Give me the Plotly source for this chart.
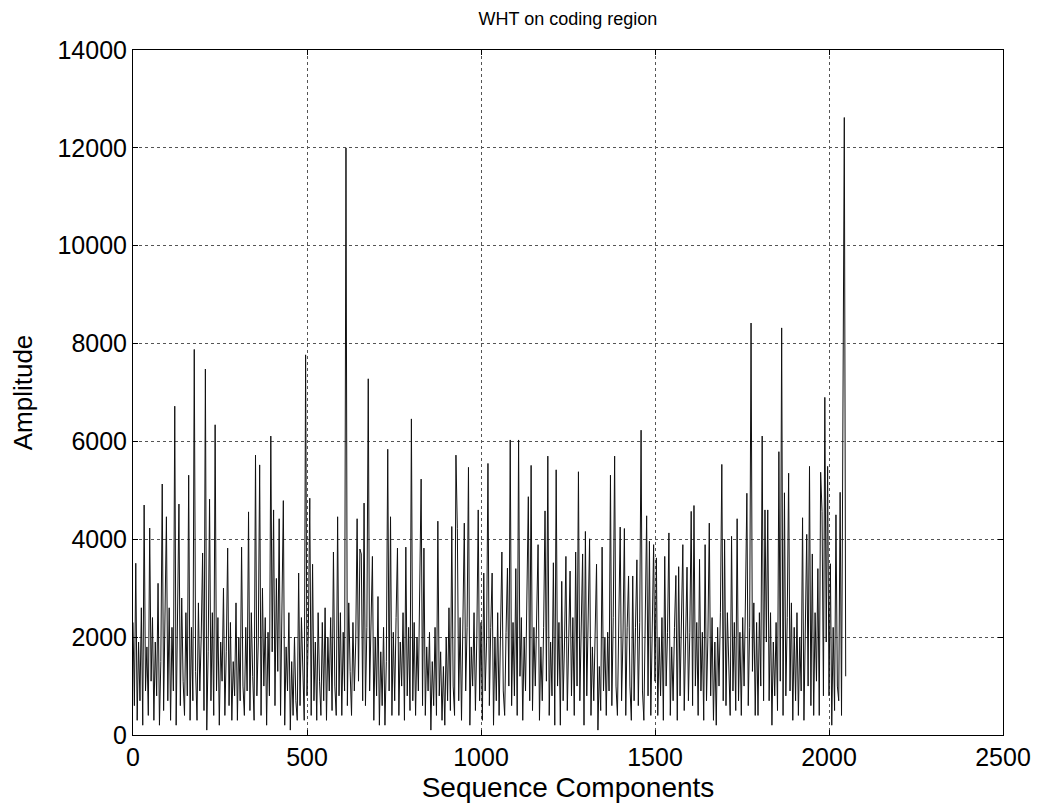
import plotly.graph_objects as go

# WHT amplitude, one reading every 4 sequence components (0 .. 2048)
step = 4
amplitude = [
    2300, 600, 3510, 300, 1900, 700, 2600, 200, 4700, 900,
    1800, 400, 4230, 1100, 2400, 300, 1900, 800, 3100, 200,
    1500, 5130, 500, 2100, 4460, 700, 2600, 300, 2200, 900,
    6720, 200, 2100, 4720, 600, 2800, 1100, 400, 2500, 800,
    5310, 300, 2200, 700, 7880, 1300, 300, 2700, 900, 2000,
    3720, 500, 7480, 100, 1700, 4820, 700, 2500, 400, 6340,
    900, 2400, 200, 1900, 1100, 3000, 400, 1700, 3820, 600,
    2300, 300, 1500, 800, 2700, 300, 2000, 700, 3840, 1000,
    400, 2200, 900, 4560, 500, 2500, 1200, 300, 5720, 800,
    1900, 5520, 400, 3000, 1000, 2400, 200, 2100, 800, 6110,
    1700, 4600, 600, 3200, 1300, 4420, 400, 2300, 4790, 200,
    1800, 900, 2500, 100, 1500, 400, 2000, 700, 300, 3310,
    600, 2400, 1000, 300, 7770, 800, 2200, 4840, 400, 3490,
    700, 1900, 300, 2500, 1100, 400, 2300, 700, 2600, 300,
    2000, 900, 2400, 500, 3740, 1000, 400, 4460, 800, 2500,
    400, 2100, 900, 12000, 600, 2700, 1300, 400, 2300, 900,
    1900, 4420, 1100, 3800, 3700, 700, 4740, 600, 2200, 7280,
    900, 2500, 3650, 300, 2000, 800, 2830, 200, 1700, 600,
    2200, 200, 1500, 5840, 900, 4460, 400, 2100, 700, 2400,
    3820, 400, 1900, 1000, 2500, 300, 3840, 800, 2200, 500,
    6460, 700, 2300, 400, 2000, 900, 2700, 5230, 600, 3820,
    400, 1800, 900, 2100, 100, 1500, 600, 2200, 400, 4370,
    800, 1700, 300, 1400, 200, 2000, 700, 2600, 500, 4260,
    1000, 400, 5720, 4220, 700, 2400, 300, 1900, 4330, 900,
    2200, 5470, 200, 1800, 1000, 2500, 500, 2000, 4600, 700,
    2300, 300, 3310, 900, 1900, 5550, 600, 2200, 3310, 200,
    2000, 700, 2500, 400, 1800, 3740, 900, 400, 2100, 3410,
    1000, 6030, 600, 2300, 800, 3400, 400, 6030, 1200, 2400,
    300, 2000, 900, 2600, 4870, 700, 5510, 500, 2200, 1000,
    2500, 3890, 300, 1800, 700, 2200, 4580, 1100, 5700, 400,
    1900, 800, 3520, 200, 5420, 1000, 2300, 200, 3140, 700,
    1900, 3650, 500, 2200, 3350, 800, 2400, 400, 3740, 1000,
    5380, 700, 2100, 3700, 200, 4160, 800, 2300, 4010, 400,
    1800, 700, 2200, 3490, 100, 1400, 500, 3840, 900, 2000,
    400, 2100, 900, 5310, 600, 2400, 5700, 1000, 400, 2400,
    4250, 700, 2000, 4220, 400, 2200, 3250, 1000, 300, 3250,
    700, 2200, 3580, 600, 2300, 6230, 900, 300, 2500, 4480,
    800, 3960, 400, 1900, 3890, 1100, 3620, 400, 2000, 800,
    2400, 300, 3650, 1000, 2100, 4130, 400, 1800, 700, 2200,
    3260, 300, 3440, 800, 2200, 3890, 500, 1900, 3430, 700,
    2100, 4570, 600, 4690, 1000, 2300, 400, 3590, 900, 2100,
    300, 3890, 700, 2000, 4330, 800, 2400, 300, 1900, 200,
    2200, 1000, 2500, 5530, 700, 4000, 600, 2500, 1100, 400,
    4060, 900, 2300, 500, 4420, 700, 2100, 400, 2400, 1000,
    2800, 4940, 600, 2200, 8420, 1300, 2700, 400, 2300, 400,
    2500, 1000, 6110, 700, 4600, 1900, 4600, 700, 2500, 200,
    1900, 800, 2300, 500, 5790, 1100, 8320, 400, 4950, 800,
    2400, 5350, 900, 2700, 300, 2200, 700, 2500, 400, 2000,
    900, 4440, 300, 2300, 4100, 1000, 5490, 600, 3700, 400,
    2500, 1100, 3400, 400, 5370, 4570, 800, 6900, 1900, 5490,
    800, 3500, 200, 2200, 500, 4500, 1000, 700, 4960, 400,
    5830, 12620, 1200,
]
components = [i * step for i in range(len(amplitude))]

x_ticks = [0, 500, 1000, 1500, 2000, 2500]
y_ticks = [0, 2000, 4000, 6000, 8000, 10000, 12000, 14000]

fig = go.Figure()
fig.add_trace(go.Scatter(x=components, y=amplitude, mode="lines",
                         line=dict(color="#111111", width=1), showlegend=False))

axis_style = dict(showline=True, linecolor="black", linewidth=1, mirror="ticks",
                  ticks="inside", ticklen=5, tickcolor="black",
                  showgrid=True, gridcolor="#555555", gridwidth=1, griddash="dot",
                  zeroline=False, tickformat="d",
                  tickfont=dict(size=25, color="black"))

fig.update_xaxes(range=[0, 2500], tickvals=x_ticks, **axis_style,
                 title=dict(text="Sequence Components", font=dict(size=28, color="black"), standoff=7))
fig.update_yaxes(range=[0, 14000], tickvals=y_ticks, **axis_style,
                 title=dict(text="Amplitude", font=dict(size=26, color="black"), standoff=18))

# the page adds an 8px body margin, so the figure is sized to fit the window
fig.update_layout(
    width=1031, height=798,
    margin=dict(l=125, r=36, t=42, b=71, autoexpand=False),
    paper_bgcolor="white", plot_bgcolor="white",
    font=dict(family="Arial, Liberation Sans, sans-serif", color="black"),
    title=dict(text="WHT on coding region", x=0.5, xref="paper",
               y=0.987, yref="container", yanchor="middle",
               font=dict(size=18, color="black")),
)

fig.write_html("out.html")
